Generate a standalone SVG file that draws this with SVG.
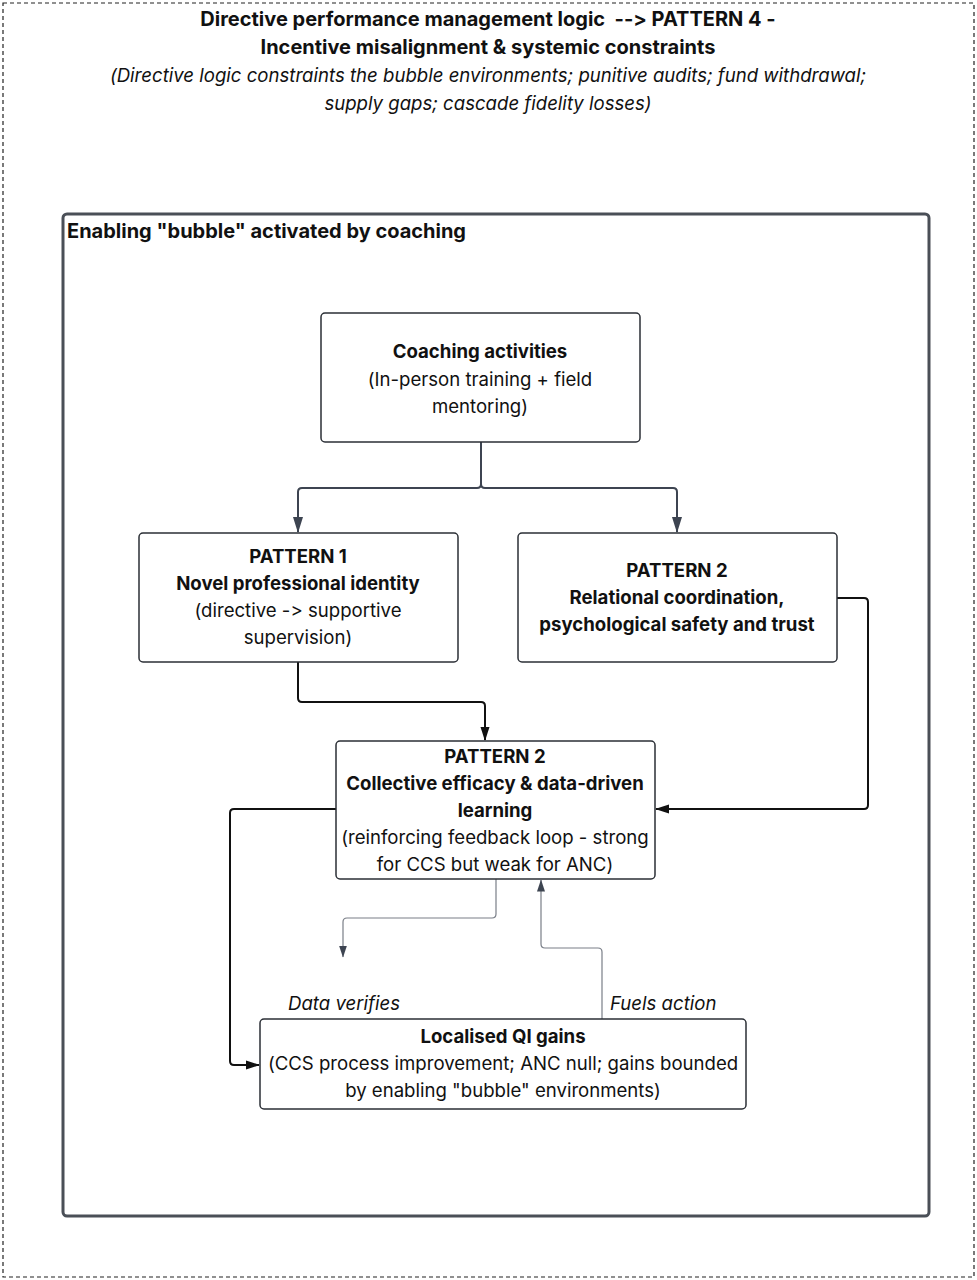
<svg xmlns="http://www.w3.org/2000/svg" width="977" height="1280" viewBox="0 0 977 1280">
<defs>
<style>
text{font-family:Inter,"Noto Sans","Liberation Sans",sans-serif;font-size:18.6px;fill:#111;font-feature-settings:"calt" 0;font-variant-ligatures:none;}
.c{text-anchor:middle;}
.b{font-weight:bold;}
.t{font-weight:bold;font-size:20px;}
.i{font-style:italic;}
.node{fill:#fff;stroke:#2b2f36;stroke-width:1.5;}
.dk{fill:none;stroke:#3d4451;stroke-width:2;}
.bk{fill:none;stroke:#111;stroke-width:2;}
.gr{fill:none;stroke:#7a7f88;stroke-width:1.2;}
</style>
<marker id="ad" viewBox="0 0 16 10" refX="15" refY="5" markerWidth="16" markerHeight="10" orient="auto" markerUnits="userSpaceOnUse"><path d="M0,0 L16,5 L0,10 z" fill="#3d4451"/></marker>
<marker id="ab" viewBox="0 0 14 10" refX="13" refY="5" markerWidth="14" markerHeight="10" orient="auto" markerUnits="userSpaceOnUse"><path d="M0,0.5 L14,5 L0,9.5 z" fill="#111"/></marker>
<marker id="ag" viewBox="0 0 12 8" refX="11.5" refY="4" markerWidth="12" markerHeight="8" orient="auto" markerUnits="userSpaceOnUse"><path d="M0,0 L12,4 L0,8 z" fill="#3d4451"/></marker>
</defs>
<rect x="0" y="0" width="977" height="1280" fill="#fff"/>
<g id="outer">
<rect x="3" y="3" width="971" height="1274" fill="none" stroke="#222" stroke-width="1.2" stroke-dasharray="4,3"/>
<text class="c t" x="488" y="26" xml:space="preserve" style="white-space:pre">Directive performance management logic  --&gt; PATTERN 4 -</text>
<text class="c t" x="488" y="54">Incentive misalignment &amp; systemic constraints</text>
<text class="c i" x="488" y="82">(Directive logic constraints the bubble environments; punitive audits; fund withdrawal;</text>
<text class="c i" x="488" y="110">supply gaps; cascade fidelity losses)</text>
</g>
<g id="bubble">
<rect x="63" y="214" width="866" height="1002" rx="4" fill="none" stroke="#4a4f57" stroke-width="3"/>
<text class="t" x="67" y="238">Enabling "bubble" activated by coaching</text>
</g>
<g id="connectors">
<path class="dk" d="M481,442 V484 Q481,488 477,488 H302 Q298,488 298,492 V532" marker-end="url(#ad)"/>
<path class="dk" d="M481,442 V484 Q481,488 485,488 H673 Q677,488 677,492 V532" marker-end="url(#ad)"/>
<path class="bk" d="M298,662 V698 Q298,702 302,702 H481 Q485,702 485,706 V740" marker-end="url(#ab)"/>
<path class="bk" d="M837,598 H864 Q868,598 868,602 V805 Q868,809 864,809 H656" marker-end="url(#ab)"/>
<path class="bk" d="M336,809 H234 Q230,809 230,813 V1061 Q230,1065 234,1065 H259" marker-end="url(#ab)"/>
<path class="gr" d="M496,879 V914 Q496,918 492,918 H347 Q343,918 343,922 V957" marker-end="url(#ag)"/>
<path class="gr" d="M602,1019 V952 Q602,948 598,948 H545 Q541,948 541,944 V880" marker-end="url(#ag)"/>
<text class="i" x="288" y="1010">Data verifies</text>
<text class="i" x="610" y="1010">Fuels action</text>
</g>
<g id="coaching">
<rect class="node" x="321" y="313" width="319" height="129" rx="4"/>
<text class="c b" x="480" y="358">Coaching activities</text>
<text class="c" x="480" y="386">(In-person training + field</text>
<text class="c" x="480" y="413">mentoring)</text>
</g>
<g id="pattern1">
<rect class="node" x="139" y="533" width="319" height="129" rx="4"/>
<text class="c b" x="298" y="563">PATTERN 1</text>
<text class="c b" x="298" y="590">Novel professional identity</text>
<text class="c" x="298" y="617">(directive -&gt; supportive</text>
<text class="c" x="298" y="644">supervision)</text>
</g>
<g id="pattern2">
<rect class="node" x="518" y="533" width="319" height="129" rx="4"/>
<text class="c b" x="677" y="577">PATTERN 2</text>
<text class="c b" x="677" y="604">Relational coordination,</text>
<text class="c b" x="677" y="631">psychological safety and trust</text>
</g>
<g id="collective">
<rect class="node" x="336" y="741" width="319" height="138" rx="4"/>
<text class="c b" x="495" y="763">PATTERN 2</text>
<text class="c b" x="495" y="790">Collective efficacy &amp; data-driven</text>
<text class="c b" x="495" y="817">learning</text>
<text class="c" x="495" y="844">(reinforcing feedback loop - strong</text>
<text class="c" x="495" y="871">for CCS but weak for ANC)</text>
</g>
<g id="localised">
<rect class="node" x="260" y="1019" width="486" height="90" rx="4"/>
<text class="c b" x="503" y="1043">Localised QI gains</text>
<text class="c" x="503" y="1070">(CCS process improvement; ANC null; gains bounded</text>
<text class="c" x="503" y="1097">by enabling "bubble" environments)</text>
</g>
</svg>
